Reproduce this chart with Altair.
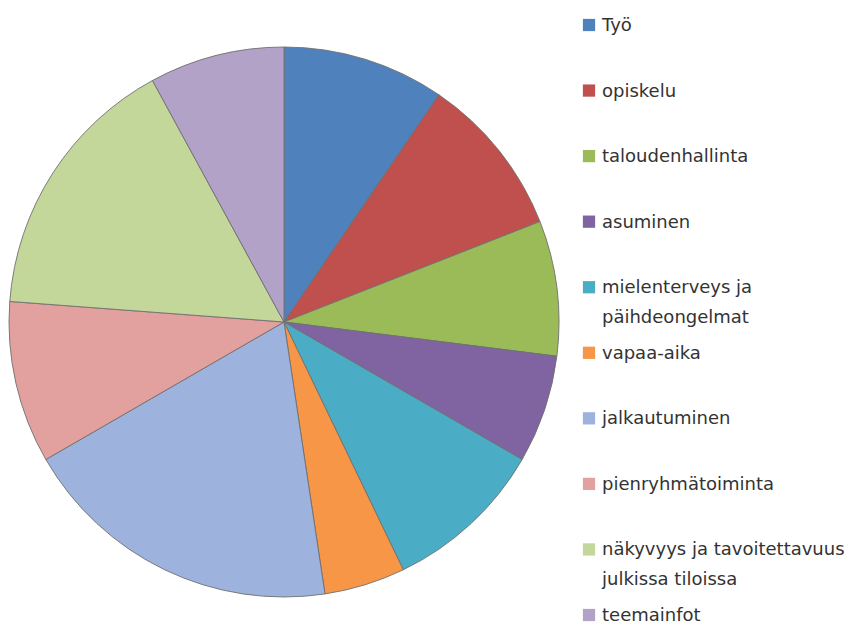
import altair as alt
import pandas as pd

# --- data ---
categories = [
    "Työ",
    "opiskelu",
    "taloudenhallinta",
    "asuminen",
    "mielenterveys ja päihdeongelmat",
    "vapaa-aika",
    "jalkautuminen",
    "pienryhmätoiminta",
    "näkyvyys ja tavoitettavuus julkissa tiloissa",
    "teemainfot",
]
legend_labels = [
    "Työ",
    "opiskelu",
    "taloudenhallinta",
    "asuminen",
    "mielenterveys ja\npäihdeongelmat",
    "vapaa-aika",
    "jalkautuminen",
    "pienryhmätoiminta",
    "näkyvyys ja tavoitettavuus\njulkissa tiloissa",
    "teemainfot",
]
values = [6, 6, 5, 4, 6, 3, 12, 6, 10, 5]
colors = [
    "#4F81BD", "#C0504D", "#9BBB59", "#8064A2", "#4BACC6",
    "#F79646", "#9DB2DD", "#E2A09E", "#C4D79B", "#B3A2C7",
]

df = pd.DataFrame({
    "category": categories,
    "label": legend_labels,
    "value": values,
    "idx": list(range(len(categories))),
})

color = alt.Color("category:N",
                  scale=alt.Scale(domain=categories, range=colors),
                  legend=None)

pie = alt.Chart(df).mark_arc(radius=275, stroke="#6f6f6f", strokeWidth=0.9).encode(
    theta=alt.Theta("value:Q", stack=True),
    color=color,
    order=alt.Order("idx:Q"),
    x=alt.value(284),
    y=alt.value(322),
)

yscale = alt.Scale(domain=[0, 9], range=[25, 615], nice=False, zero=False)

squares = alt.Chart(df).mark_square(size=150, opacity=1).encode(
    x=alt.value(589),
    y=alt.Y("idx:Q", scale=yscale, axis=None),
    color=color,
)

texts = alt.Chart(df).mark_text(
    align="left", baseline="alphabetic", dy=6, lineBreak="\n", lineHeight=30,
    font="DejaVu Sans", fontSize=18, color="#333333",
).encode(
    x=alt.value(602),
    y=alt.Y("idx:Q", scale=yscale, axis=None),
    text="label:N",
)

chart = alt.layer(pie, squares, texts).properties(
    width=865, height=626, padding=0, autosize="none"
).configure_view(stroke=None)

chart.save("out.html", embed_options={"renderer": "svg", "actions": False})
